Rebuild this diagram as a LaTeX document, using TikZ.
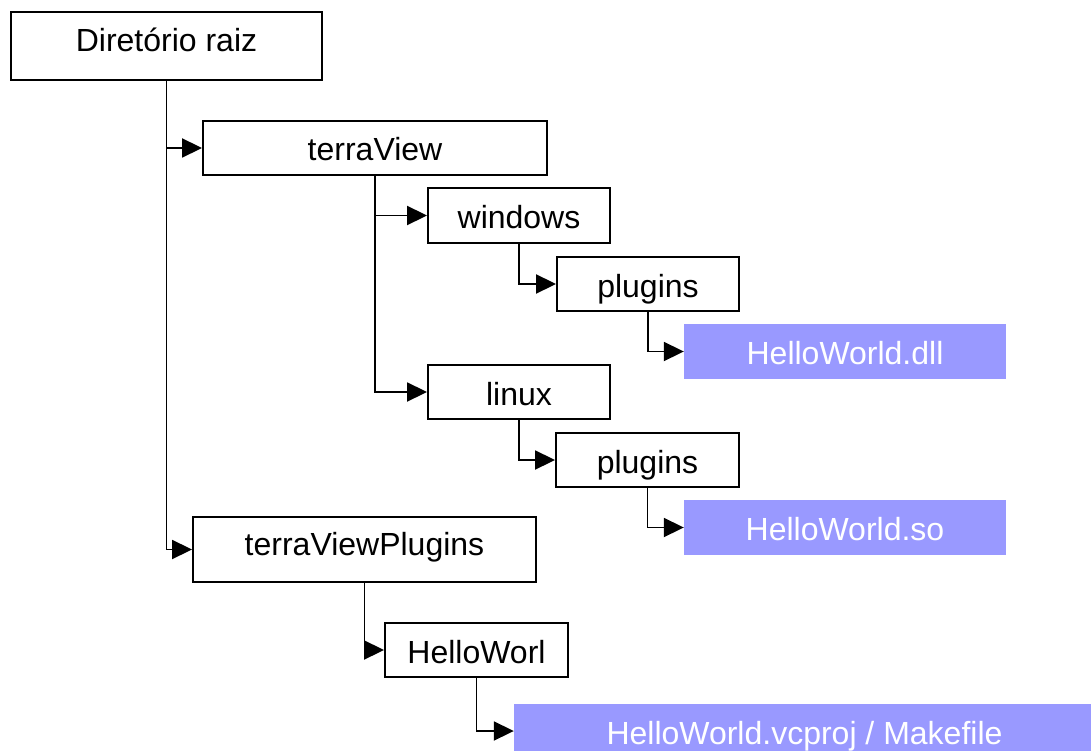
\documentclass[tikz,border=0pt]{standalone}
\usepackage{fontspec}
\setmainfont{Liberation Sans}
\usetikzlibrary{arrows.meta}
\definecolor{fileblue}{HTML}{9999FF}
\tikzset{
  dirbox/.style={draw=black, line width=1.9pt, fill=white, inner sep=0pt,
    font=\fontsize{32}{37}\selectfont, text height=26pt, text depth=0pt},
  tallbox/.style={dirbox, text height=15pt, text depth=3pt},
  filebox/.style={draw=none, fill=fileblue, inner sep=0pt, text=white,
    font=\fontsize{32}{37}\selectfont, text height=26pt, text depth=0pt},
  link/.style={line width=1.9pt, -{Triangle[length=20pt,width=19pt]}}
}
\begin{document}
\begin{tikzpicture}[x=1pt,y=-1pt]
\useasboundingbox (0,0) rectangle (1091,751);
\clip (0,0) rectangle (1091,751);
\node[tallbox, minimum width=311pt, minimum height=68pt] (root) at (166.5,46) {Diretório raiz};
\node[dirbox, minimum width=344pt, minimum height=54pt] (tv) at (375,148) {terraView};
\node[dirbox, minimum width=182pt, minimum height=55pt] (win) at (519,215.5) {windows};
\node[dirbox, minimum width=182pt, minimum height=54pt] (plugA) at (648,284) {plugins};
\node[filebox, minimum width=322pt, minimum height=55pt] (dll) at (845,351.5) {HelloWorld.dll};
\node[dirbox, minimum width=182pt, minimum height=54pt] (lin) at (519,392) {linux};
\node[dirbox, minimum width=183pt, minimum height=54pt] (plugB) at (647.5,460) {plugins};
\node[filebox, minimum width=322pt, minimum height=55pt] (so) at (845,527.5) {HelloWorld.so};
\node[tallbox, minimum width=343pt, minimum height=65pt] (tvp) at (364.5,549.5) {terraViewPlugins};
\node[dirbox, minimum width=183pt, minimum height=54pt] (hw) at (476.5,650) {HelloWorl};
\node[filebox, minimum width=581pt, minimum height=54pt] (vc) at (804.5,731) {HelloWorld.vcproj / Makefile};

\draw[link] (root.south) |- (tv.west);
\draw[link] (root.south) |- (tvp.west);
\draw[link] (tv.south) |- (win.west);
\draw[link] (tv.south) |- (lin.west);
\draw[link] (win.south) |- (plugA.west);
\draw[link] (plugA.south) |- (dll.west);
\draw[link] (lin.south) |- (plugB.west);
\draw[link] (plugB.south) |- (so.west);
\draw[link] (tvp.south) |- (hw.west);
\draw[link] (hw.south) |- (vc.west);
\end{tikzpicture}
\end{document}
